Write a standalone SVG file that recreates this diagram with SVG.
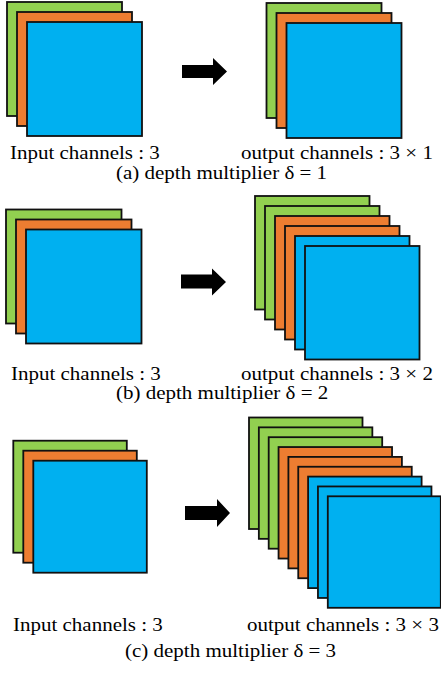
<svg xmlns="http://www.w3.org/2000/svg" width="441" height="673" viewBox="0 0 441 673">
<style>
rect{stroke:#111;stroke-width:1.8}
.g{fill:#92d050}.o{fill:#ed7d31}.b{fill:#00b0f0}
.t{font-family:'Liberation Serif','Times New Roman','DejaVu Serif',serif;font-size:21px;fill:#000}
.arrow{fill:#000}
</style>
<rect x="0" y="0" width="441" height="673" fill="#fff" style="stroke:none"/>
<g id="a-input">
<rect class="g" x="7" y="2" width="115" height="114"/>
<rect class="o" x="17" y="12" width="115" height="114"/>
<rect class="b" x="27" y="22" width="115" height="114"/>
</g>
<g id="a-output">
<rect class="g" x="266.5" y="3" width="115" height="115"/>
<rect class="o" x="276.5" y="13" width="115" height="115"/>
<rect class="b" x="286.5" y="23" width="115" height="115"/>
</g>
<g id="b-input">
<rect class="g" x="6" y="209.5" width="115.5" height="114"/>
<rect class="o" x="16" y="219.5" width="115.5" height="114"/>
<rect class="b" x="26" y="229.5" width="115.5" height="114"/>
</g>
<g id="b-output">
<rect class="g" x="255" y="196" width="114.5" height="113.5"/>
<rect class="g" x="265" y="206" width="114.5" height="113.5"/>
<rect class="o" x="275" y="216" width="114.5" height="113.5"/>
<rect class="o" x="285" y="226" width="114.5" height="113.5"/>
<rect class="b" x="295" y="236" width="114.5" height="113.5"/>
<rect class="b" x="305" y="246" width="114.5" height="113.5"/>
</g>
<g id="c-input">
<rect class="g" x="13.3" y="440.7" width="113.5" height="112"/>
<rect class="o" x="23.3" y="450.7" width="113.5" height="112"/>
<rect class="b" x="33.3" y="460.7" width="113.5" height="112"/>
</g>
<g id="c-output">
<rect class="g" x="249" y="417.5" width="113.5" height="111.5"/>
<rect class="g" x="258.85" y="427.35" width="113.5" height="111.5"/>
<rect class="g" x="268.7" y="437.2" width="113.5" height="111.5"/>
<rect class="o" x="278.55" y="447.05" width="113.5" height="111.5"/>
<rect class="o" x="288.4" y="456.9" width="113.5" height="111.5"/>
<rect class="o" x="298.25" y="466.75" width="113.5" height="111.5"/>
<rect class="b" x="308.1" y="476.6" width="113.5" height="111.5"/>
<rect class="b" x="317.95" y="486.45" width="113.5" height="111.5"/>
<rect class="b" x="327.8" y="496.3" width="113" height="111.5"/>
</g>
<g id="connectors">
<polygon class="arrow" points="182,65 213,65 213,58 227,71.5 213,85 213,78 182,78"/>
<polygon class="arrow" points="181,274.5 212,274.5 212,268.5 226,282 212,295.5 212,288.5 181,288.5"/>
<polygon class="arrow" points="185,506 217,506 217,499 230,513 217,527 217,520 185,520"/>
</g>
<g id="labels" font-family="'Liberation Serif', 'Times New Roman', serif" font-size="21">
<text class="t" transform="translate(10,159) scale(1,0.88)">Input channels : 3</text>
<text class="t" transform="translate(241,159) scale(1,0.88)">output channels : 3 × 1</text>
<text class="t" transform="translate(116,178.5) scale(1,0.88)">(a) depth multiplier δ = 1</text>
<text class="t" transform="translate(11,380) scale(1,0.88)">Input channels : 3</text>
<text class="t" transform="translate(241,380) scale(1,0.88)">output channels : 3 × 2</text>
<text class="t" transform="translate(116,399) scale(1,0.88)">(b) depth multiplier δ = 2</text>
<text class="t" transform="translate(13,631) scale(1,0.88)">Input channels : 3</text>
<text class="t" transform="translate(247,631) scale(1,0.88)">output channels : 3 × 3</text>
<text class="t" transform="translate(125,657) scale(1,0.88)">(c) depth multiplier δ = 3</text>
</g>
</svg>
